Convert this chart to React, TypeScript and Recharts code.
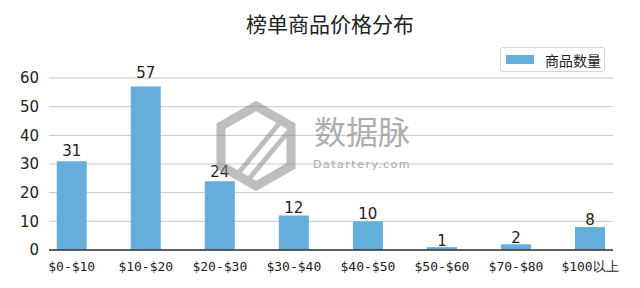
import { Bar, BarChart, CartesianGrid, LabelList, XAxis, YAxis } from "recharts";

const priceRanges = ["$0-$10", "$10-$20", "$20-$30", "$30-$40", "$40-$50", "$50-$60", "$70-$80", "$100以上"];
const productCounts = [31, 57, 24, 12, 10, 1, 2, 8];
const yTicks = [0, 10, 20, 30, 40, 50, 60];
const xTicks = priceRanges.map((_, i) => i);

const seriesName = "商品数量";
const barColor = "#65aedb";
const textColor = "#222";

const chartData = priceRanges.map((range, i) => ({
  idx: i,
  range,
  count: productCounts[i],
}));

function ValueLabel(props: any) {
  const { x, y, width, height, value } = props;
  // gap above the bar grows a little with bar height, like the original
  const gap = 1.5 + 0.045 * Number(height);
  return (
    <text
      x={Number(x) + Number(width) / 2}
      y={Number(y) - gap}
      textAnchor="middle"
      fontSize={15}
      fill={textColor}
      fontFamily="DejaVu Sans"
    >
      {value}
    </text>
  );
}

function LegendBox() {
  return (
    <div
      style={{
        position: "absolute",
        left: 500,
        top: 47,
        width: 105,
        height: 25,
        border: "1px solid #d6d6d6",
        borderRadius: 3,
        background: "#fff",
        display: "flex",
        alignItems: "center",
        boxSizing: "border-box",
      }}
    >
      <span style={{ display: "inline-block", width: 28, height: 9, background: barColor, marginLeft: 5 }} />
      <span style={{ marginLeft: 11, fontSize: 14, color: textColor, fontFamily: "Noto Sans CJK SC" }}>{seriesName}</span>
    </div>
  );
}

function Watermark() {
  return (
    <svg width={640} height={288} style={{ position: "absolute", left: 0, top: 0, pointerEvents: "none" }}>
      <g opacity={0.55} fill="none" stroke="#8a8a8a">
        <polygon points="256,106 291,126 291,166 256,186 221,166 221,126" strokeWidth={9} />
        <line x1={236} y1={176} x2={282} y2={120} strokeWidth={5} />
        <line x1={248} y1={180} x2={288} y2={132} strokeWidth={5} />
      </g>
      <text x={362} y={144} textAnchor="middle" fontSize={32} fill="#9a9a9a" opacity={0.8} fontFamily="Noto Sans CJK SC">
        数据脉
      </text>
      <text x={362} y={168} textAnchor="middle" fontSize={11} letterSpacing={1.5} fill="#a8a8a8" fontFamily="DejaVu Sans">
        Datartery.com
      </text>
    </svg>
  );
}

export default function App() {
  return (
    <div style={{ position: "absolute", left: 0, top: 0, width: 640, height: 288, background: "#fff" }}>
      <div
        style={{
          position: "absolute",
          left: 0,
          width: 660,
          top: 9,
          textAlign: "center",
          fontSize: 21,
          lineHeight: "28px",
          color: textColor,
          fontFamily: "Noto Sans CJK SC",
        }}
      >
        榜单商品价格分布
      </div>
      <BarChart width={640} height={288} data={chartData} margin={{ top: 78, right: 27, bottom: 0, left: 0 }}>
        <CartesianGrid vertical={false} stroke="#c6c6c6" />
        <XAxis
          type="number"
          dataKey="idx"
          domain={[-0.307, 7.31]}
          ticks={xTicks}
          tickFormatter={(i: number) => priceRanges[i]}
          height={38}
          tickLine={false}
          tickMargin={6}
          axisLine={{ stroke: "#333", strokeWidth: 1.5 }}
          tick={{ fontSize: 13, fill: textColor, fontFamily: "DejaVu Sans Mono" }}
          interval={0}
        />
        <YAxis
          domain={[0, 60]}
          ticks={yTicks}
          width={49}
          tickLine={false}
          axisLine={false}
          tickMargin={4}
          tick={{ fontSize: 15, fill: textColor, fontFamily: "DejaVu Sans" }}
        />
        <Bar dataKey="count" name={seriesName} fill={barColor} barSize={30} isAnimationActive={false}>
          <LabelList dataKey="count" content={<ValueLabel />} />
        </Bar>
      </BarChart>
      <LegendBox />
      <Watermark />
    </div>
  );
}
